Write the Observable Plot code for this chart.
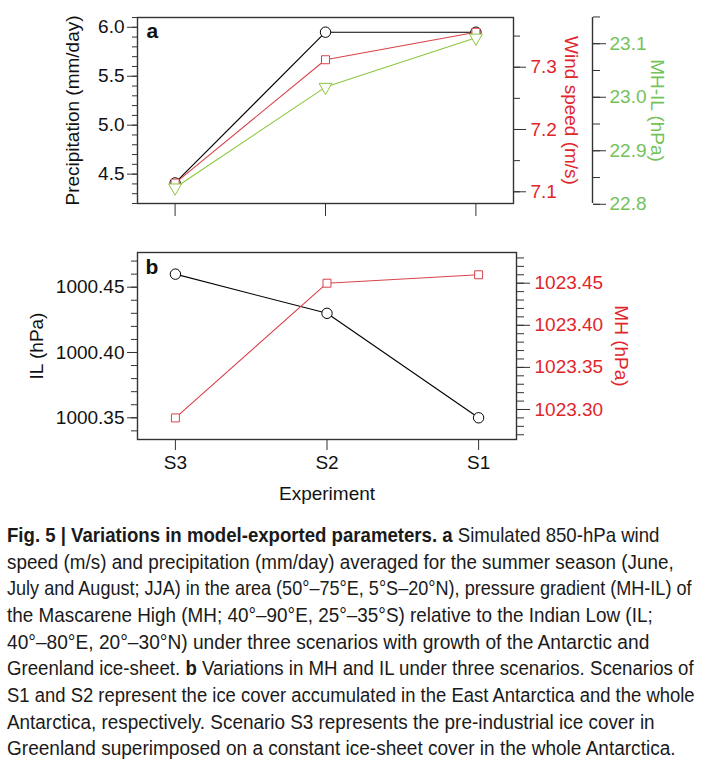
<!DOCTYPE html>
<html><head><meta charset="utf-8">
<script src="https://cdn.jsdelivr.net/npm/d3@7"></script>
<script src="https://cdn.jsdelivr.net/npm/@observablehq/plot@0.6"></script>
<style>
body{margin:0;background:#fff;}
#wrap{position:relative;width:709px;height:764px;overflow:hidden;background:#fff;}
#wrap svg{position:absolute;left:0;}
</style></head><body><div id="wrap"></div>
<script>
// ---- data ----
const experiments = ["S3", "S2", "S1"];
const precipitation = [4.41, 5.95, 5.95];      // mm/day (black, left axis a)
const windSpeed = [7.114, 7.312, 7.356];       // m/s (red, right axis a)
const mhMinusIl = [22.831, 23.019, 23.111];    // hPa (green, outer right axis a)
const indianLow = [1000.46, 1000.43, 1000.35]; // hPa (black, left axis b)
const mascareneHigh = [1023.29, 1023.45, 1023.46]; // hPa (red, right axis b)

const precipTicks = [4.5, 5.0, 5.5, 6.0];
const windTicks = [7.1, 7.2, 7.3];
const mhilTicks = [22.8, 22.9, 23.0, 23.1];
const ilTicks = [1000.35, 1000.40, 1000.45];
const mhTicks = [1023.30, 1023.35, 1023.40, 1023.45];

const precipMinor = d3.range(42, 62).map(d => d / 10);
const windMinor = d3.range(142, 148).map(d => d / 20);
const mhilMinor = d3.range(456, 464).map(d => d / 20);
const ilMinor = d3.range(100034, 100048).map(d => d / 100);
const mhMinor = d3.range(102327, 102349).map(d => d / 100);

const rows = experiments.map((e, i) => ({
  experiment: e, precip: precipitation[i], wind: windSpeed[i], mhil: mhMinusIl[i],
  il: indianLow[i], mh: mascareneHigh[i]
}));

const FONT = "'Liberation Sans', Arial, Helvetica, sans-serif";
const RED_LINE = "#d8434a", RED_TEXT = "#e0262b";
const GREEN_LINE = "#8cc63f", GREEN_TEXT = "#74c25a";
const AXIS = "#333";
const TICK_FS = 19;
const wrap = document.getElementById("wrap");

function add(top, opts) {
  const svg = Plot.plot({
    width: 709,
    style: {fontFamily: FONT, fontSize: TICK_FS + "px", background: "none", overflow: "visible", color: "#111"},
    ...opts
  });
  svg.style.top = top + "px";
  wrap.appendChild(svg);
}

// ---- panel a ----
const A = {height: 225, marginTop: 17, marginBottom: 22, marginLeft: 137, marginRight: 196};
const xA = {type: "point", domain: experiments, padding: 0.25, round: false};

add(0, {...A, x: xA, y: {domain: [4.2, 6.1]},
  marks: [
    Plot.frame({stroke: AXIS, strokeWidth: 1.4}),
    Plot.axisY(precipMinor, {anchor: "left", tickSize: 5, stroke: AXIS, fill: "none"}),
    Plot.axisY(precipTicks, {anchor: "left", tickSize: 10, tickPadding: 3, stroke: AXIS, fill: "#111", fontSize: TICK_FS, tickFormat: ".1f", label: null}),
    Plot.axisX(experiments, {anchor: "bottom", tickSize: 13, stroke: AXIS, fill: "none"}),
    Plot.line(rows, {x: "experiment", y: "precip", stroke: "#000", strokeWidth: 1.1}),
    Plot.dot(rows, {x: "experiment", y: "precip", r: 5.2, stroke: "#000", fill: "white", strokeWidth: 1}),
    Plot.text(["a"], {text: d => d, frameAnchor: "top-left", dx: 9, dy: 14, textAnchor: "start", lineAnchor: "middle", fontWeight: "bold", fontSize: 21, fill: "#111"}),
    Plot.text(["Precipitation (mm/day)"], {text: d => d, frameAnchor: "left", dx: -65, rotate: -90, textAnchor: "middle", lineAnchor: "middle", fontSize: 19, fill: "#111"})
  ]});

add(0, {...A, x: {...xA, axis: null}, y: {domain: [7.0812, 7.3798]},
  marks: [
    Plot.axisY(windMinor, {anchor: "right", tickSize: 6, stroke: AXIS, fill: "none"}),
    Plot.axisY(windTicks, {anchor: "right", tickSize: 12, tickPadding: 5, stroke: AXIS, fill: RED_TEXT, fontSize: TICK_FS, tickFormat: ".1f", label: null}),
    Plot.line(rows, {x: "experiment", y: "wind", stroke: RED_LINE, strokeWidth: 1.1}),
    Plot.dot(rows, {x: "experiment", y: "wind", symbol: "square", r: 4.5, stroke: RED_LINE, fill: "white", strokeWidth: 1}),
    Plot.text(["Wind speed (m/s)"], {text: d => d, frameAnchor: "right", dx: 58, rotate: 90, textAnchor: "middle", lineAnchor: "middle", fontSize: 19, fill: RED_TEXT})
  ]});

add(0, {...A, x: {...xA, axis: null}, y: {domain: [22.8015, 23.149], axis: null},
  marks: [
    Plot.line(rows, {x: "experiment", y: "mhil", stroke: GREEN_LINE, strokeWidth: 1.1}),
    Plot.dot(rows, {x: "experiment", y: "mhil", symbol: "triangle", rotate: 180, r: 4.8, stroke: GREEN_LINE, fill: "white", strokeWidth: 1})
  ]});

add(0, {...A, marginRight: 117, x: {domain: [0, 1], axis: null}, y: {domain: [22.8015, 23.149]},
  marks: [
    Plot.ruleX([1], {stroke: AXIS, strokeWidth: 1.4}),
    Plot.axisY(mhilMinor, {anchor: "right", tickSize: 7, stroke: AXIS, fill: "none"}),
    Plot.axisY(mhilTicks, {anchor: "right", tickSize: 13, tickPadding: 4, stroke: AXIS, fill: GREEN_TEXT, fontSize: TICK_FS, tickFormat: ".1f", label: null}),
    Plot.text(["MH-IL (hPa)"], {text: d => d, frameAnchor: "right", dx: 65, rotate: 90, textAnchor: "middle", lineAnchor: "middle", fontSize: 19, fill: GREEN_TEXT})
  ]});

// ---- panel b ----
const B = {height: 270, marginTop: 17, marginBottom: 66, marginLeft: 137, marginRight: 193};
const xB = {type: "point", domain: experiments, padding: 0.25, round: false};

add(235, {...B, x: xB, y: {domain: [1000.33338, 1000.47657]},
  marks: [
    Plot.frame({stroke: AXIS, strokeWidth: 1.4}),
    Plot.axisY(ilMinor, {anchor: "left", tickSize: 6, stroke: AXIS, fill: "none"}),
    Plot.axisY(ilTicks, {anchor: "left", tickSize: 10, tickPadding: 3, stroke: AXIS, fill: "#111", fontSize: TICK_FS, tickFormat: ".2f", label: null}),
    Plot.axisX(experiments, {anchor: "bottom", tickSize: 11, tickPadding: 5, stroke: AXIS, fill: "#111", fontSize: TICK_FS, label: null}),
    Plot.line(rows, {x: "experiment", y: "il", stroke: "#000", strokeWidth: 1.1}),
    Plot.dot(rows, {x: "experiment", y: "il", r: 5.2, stroke: "#000", fill: "white", strokeWidth: 1}),
    Plot.text(["b"], {text: d => d, frameAnchor: "top-left", dx: 8, dy: 15, textAnchor: "start", lineAnchor: "middle", fontWeight: "bold", fontSize: 21, fill: "#111"}),
    Plot.text(["IL (hPa)"], {text: d => d, frameAnchor: "left", dx: -101, rotate: -90, textAnchor: "middle", lineAnchor: "middle", fontSize: 19, fill: "#111"}),
    Plot.text(["Experiment"], {text: d => d, frameAnchor: "bottom", dy: 54, textAnchor: "middle", lineAnchor: "middle", fontSize: 19, fill: "#111"})
  ]});

add(235, {...B, x: {...xB, axis: null}, y: {domain: [1023.26437, 1023.48646]},
  marks: [
    Plot.axisY(mhMinor, {anchor: "right", tickSize: 7, stroke: AXIS, fill: "none"}),
    Plot.axisY(mhTicks, {anchor: "right", tickSize: 13, tickPadding: 5, stroke: AXIS, fill: RED_TEXT, fontSize: TICK_FS, tickFormat: ".2f", label: null}),
    Plot.line(rows, {x: "experiment", y: "mh", stroke: RED_LINE, strokeWidth: 1.1}),
    Plot.dot(rows, {x: "experiment", y: "mh", symbol: "square", r: 4.5, stroke: RED_LINE, fill: "white", strokeWidth: 1}),
    Plot.text(["MH (hPa)"], {text: d => d, frameAnchor: "right", dx: 105, rotate: 90, textAnchor: "middle", lineAnchor: "middle", fontSize: 19, fill: RED_TEXT})
  ]});

// ---- caption ----
const captionLines = [
  [["Fig. 5 | Variations in model-exported parameters.", true], [" ", false], ["a", true], [" Simulated 850-hPa wind", false]],
  [["speed (m/s) and precipitation (mm/day) averaged for the summer season (June,", false]],
  [["July and August; JJA) in the area (50°–75°E, 5°S–20°N), pressure gradient (MH-IL) of", false]],
  [["the Mascarene High (MH; 40°–90°E, 25°–35°S) relative to the Indian Low (IL;", false]],
  [["40°–80°E, 20°–30°N) under three scenarios with growth of the Antarctic and", false]],
  [["Greenland ice-sheet. ", false], ["b", true], [" Variations in MH and IL under three scenarios. Scenarios of", false]],
  [["S1 and S2 represent the ice cover accumulated in the East Antarctica and the whole", false]],
  [["Antarctica, respectively. Scenario S3 represents the pre-industrial ice cover in", false]],
  [["Greenland superimposed on a constant ice-sheet cover in the whole Antarctica.", false]]
];
const captionWidths = [653, 667, 685, 646, 643, 687, 688, 648, 669];

const cap = d3.create("svg").attr("width", 709).attr("height", 254)
  .style("top", "510px").style("position", "absolute").style("left", "0px");
wrap.appendChild(cap.node());
captionLines.forEach((segs, i) => {
  const t = cap.append("text")
    .attr("x", 0).attr("y", 0)
    .attr("font-family", "'Liberation Sans Narrow', 'Liberation Sans', Arial, sans-serif")
    .attr("font-size", 21).attr("fill", "#1a1a1a");
  segs.forEach(([s, b]) => t.append("tspan").attr("font-weight", b ? "bold" : "normal").text(s));
  const len = t.node().getComputedTextLength() || captionWidths[i];
  t.attr("transform", `translate(7,${32 + i * 26.67}) scale(${captionWidths[i] / len},1)`);
});
</script></body></html>
